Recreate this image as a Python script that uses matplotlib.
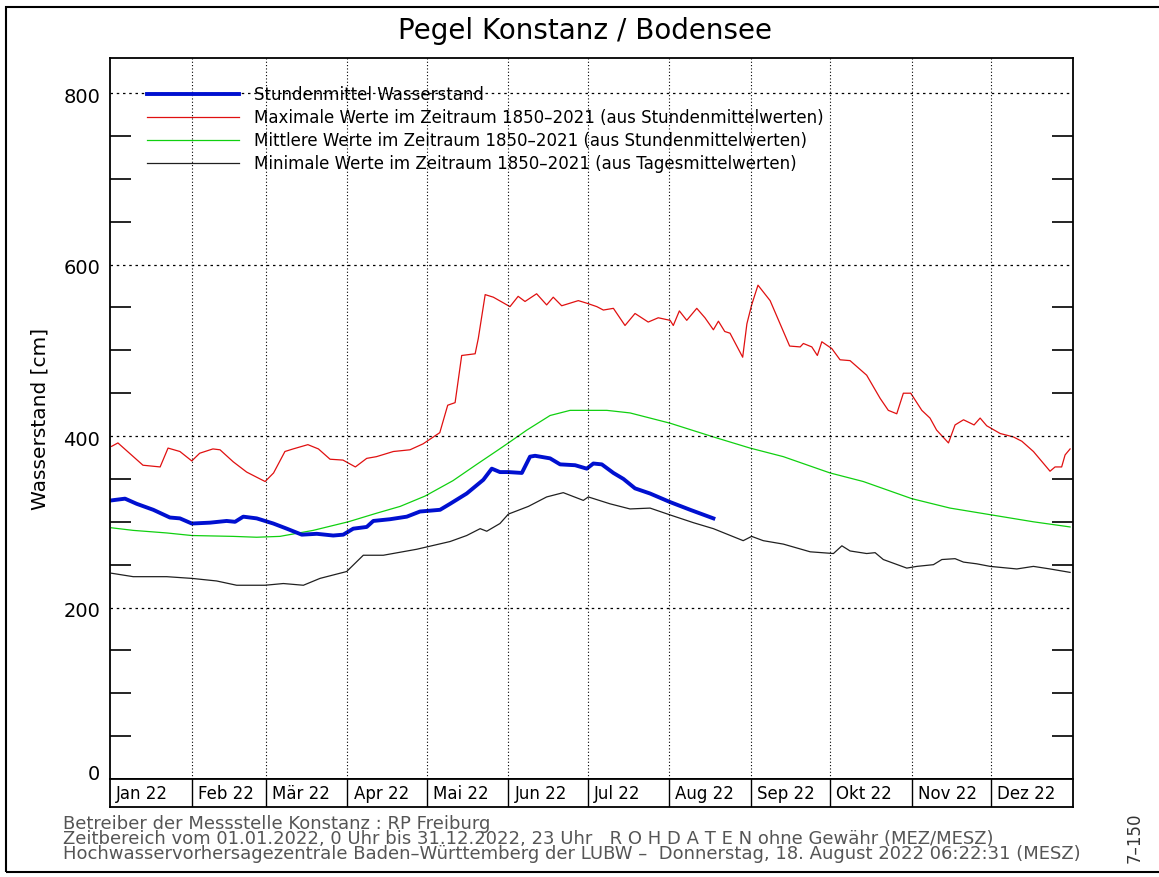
import matplotlib.pyplot as plt
from matplotlib.lines import Line2D
from matplotlib.patches import Rectangle
from matplotlib.transforms import ScaledTranslation
import numpy as np

# day of year (0 = 1. Jan) and water level in cm
max_days = [0.6, 3, 12.5, 19, 22, 26.5, 31, 34, 39, 41.7, 46.7, 51.8, 55.6, 58.8, 62, 66.3, 69.4, 75,
            79, 83.4, 88.3, 93, 97.3, 101, 107.4, 113.7, 118.7, 125, 128, 130.8, 133.3, 138.4, 139.6,
            142.2, 145.3, 151.6, 154.7, 157.3, 161.7, 165.5, 168, 171.2, 177.5, 180.7, 184.5, 187,
            190.8, 195.2, 199, 204, 207.8, 212.3, 213.5, 215.8, 218.6, 222.4, 225.5, 228.7, 230.6,
            233, 235, 239.8, 241.4, 243.2, 245.6, 250.2, 257.6, 261.6, 262.8, 266, 268.1, 269.8,
            273.6, 276.7, 280.5, 286.8, 291.9, 295, 298.2, 300.7, 303.5, 307.7, 310.8, 313.3, 317.8,
            320.3, 323.5, 327.5, 329.8, 332.3, 337.4, 342.4, 345.6, 350, 356.3, 358.2, 360.7, 362,
            363.9]
max_vals = [388, 392, 366, 364, 386, 382, 371, 380, 385, 384, 370, 358, 352, 347, 357, 382, 385, 390,
            385, 373, 372, 364, 374, 376, 382, 384, 391, 404, 436, 439, 494, 496, 514,
            565, 562, 551, 563, 557, 566, 553, 562, 552, 558, 555, 551, 547,
            549, 529, 543, 533, 538, 535, 529, 546, 535, 549, 538, 524, 534,
            522, 520, 492, 531, 553, 576, 558, 505, 504, 508, 504, 494, 510,
            502, 489, 488, 471, 444, 430, 426, 450, 450, 430, 421, 407, 392,
            413, 419, 413, 421, 412, 403, 399, 394, 382, 359, 364, 364, 378,
            385]

mean_days = [0.6, 8.8, 21.5, 31, 46.7, 55.6, 64.4, 77, 90.3, 101, 110, 119.4, 130, 139, 147.2, 151,
             158, 166.8, 174.4, 188.3, 197.1, 212.3, 228.7, 242.6, 255.2, 272.9, 285.5, 303.9,
             318.4, 334.2, 350, 363.9]
mean_vals = [293, 290, 287, 284, 283, 282, 283, 290, 300, 310, 318, 330, 348, 367, 384, 392,
             407, 424, 430, 430, 427, 415, 399, 386, 376, 357, 347, 327,
             316, 308, 300, 294]

min_days = [0.6, 8.8, 21.5, 31, 40.4, 48, 58.8, 65.7, 73.3, 79.6, 89.7, 96, 103.6, 116.3, 128.9,
            135.2, 140.3, 142.8, 147.8, 151, 158.6, 165.5, 171.8, 179.4, 181.3, 189.5, 197.1,
            204.7, 212.3, 221.1, 228.7, 240, 243.2, 247.6, 255.2, 265.4, 274.2, 277.4, 280.5,
            286.8, 290, 293.1, 302, 305.8, 312.1, 315.3, 320.3, 323.5, 328.5, 333.6, 343.7, 350,
            356.3, 363.9]
min_vals = [240, 236, 236, 234, 231, 226, 226, 228, 226, 234, 242, 261, 261, 268, 277,
            284, 292, 289, 298, 309, 318, 329, 334, 325, 329, 321, 315,
            316, 308, 299, 292, 278, 283, 278, 274, 265, 263, 272, 266,
            263, 264, 256, 246, 248, 250, 256, 257, 253, 251, 248, 245, 248,
            245, 241]

cur_days = [0.6, 5.7, 10.1, 16.4, 22.7, 26.5, 31, 37.9, 44.2, 47.4, 50.5, 55.6, 61.9, 67, 72.7,
            78.4, 84.6, 88.4, 92.2, 97.3, 99.8, 106.1, 112.5, 117.5, 125.1, 128.9, 135.2, 141.5,
            144.7, 147.8, 151, 156.1, 159.2, 161.1, 166.8, 170.6, 176.3, 180.7, 183.2, 186.4,
            190.8, 194.6, 199, 204.7, 212.3, 219.9, 228.7]
cur_vals = [325, 327, 321, 314, 305, 304, 298, 299, 301, 300, 306, 304, 298, 292, 285,
            286, 284, 285, 292, 294, 301, 303, 306, 312, 314, 321, 333, 349,
            362, 358, 358, 357, 376, 377, 374, 367, 366, 362, 368, 367,
            357, 350, 339, 333, 323, 314, 304]

month_starts = [0, 31, 59, 90, 120, 151, 181, 212, 243, 273, 304, 334, 365]
month_labels = ["Jan 22", "Feb 22", "Mär 22", "Apr 22", "Mai 22", "Jun 22",
                "Jul 22", "Aug 22", "Sep 22", "Okt 22", "Nov 22", "Dez 22"]

legend_labels = [
    "Stundenmittel Wasserstand",
    "Maximale Werte im Zeitraum 1850\u20132021 (aus Stundenmittelwerten)",
    "Mittlere Werte im Zeitraum 1850\u20132021 (aus Stundenmittelwerten)",
    "Minimale Werte im Zeitraum 1850\u20132021 (aus Tagesmittelwerten)",
]
footer = ("Betreiber der Messstelle Konstanz : RP Freiburg\n"
          "Zeitbereich vom 01.01.2022, 0 Uhr bis 31.12.2022, 23 Uhr   R O H D A T E N ohne Gewähr (MEZ/MESZ)\n"
          "Hochwasservorhersagezentrale Baden\u2013Württemberg der LUBW \u2013  Donnerstag, 18. August 2022 06:22:31 (MESZ)")

W, H = 1159, 877
fig = plt.figure(figsize=(W / 100, H / 100), dpi=100)


def box(x0, y0, x1, y1):
    # pixel box (top-left origin) -> figure fraction rect
    return [x0 / W, 1 - y1 / H, (x1 - x0) / W, (y1 - y0) / H]


ax = fig.add_axes(box(110, 58, 1073, 779))
ax.set_xlim(0, 365)
ax.set_ylim(0, 841)

ax.plot(max_days, max_vals, color="#e01010", lw=0.9)
ax.plot(mean_days, mean_vals, color="#10d010", lw=0.9)
ax.plot(min_days, min_vals, color="#202020", lw=0.9)
ax.plot(cur_days, cur_vals, color="#0010d0", lw=2.8)

for d in month_starts[1:-1]:
    ax.axvline(d, color="black", lw=0.8, ls=(0, (1, 2)))
for v in [200, 400, 600, 800]:
    ax.axhline(v, color="black", lw=0.9, ls=(0, (2, 3)))

ax.set_xticks([])
ax.set_yticks([0, 200, 400, 600, 800])
ax.set_yticklabels(["0", "200", "400", "600", "800"], fontsize=14)
ax.tick_params(axis="y", length=0, pad=7)
# nudge labels like the original: "0" sits a bit higher, the others a bit lower
for lab, dy in zip(ax.get_yticklabels(), [6, -2, -2, -2, -2]):
    lab.set_transform(lab.get_transform() + ScaledTranslation(0, dy / 100, fig.dpi_scale_trans))
ax.set_yticks([v for v in range(50, 800, 50) if v % 200], minor=True)
ax.tick_params(axis="y", which="minor", direction="in", length=15, width=1.2,
               left=True, right=True)
for s in ax.spines.values():
    s.set_linewidth(1.3)
ax.set_ylabel("Wasserstand [cm]", fontsize=14.5, labelpad=10)

handles = [Line2D([], [], color="#0010d0", lw=2.8),
           Line2D([], [], color="#e01010", lw=0.9),
           Line2D([], [], color="#10d010", lw=0.9),
           Line2D([], [], color="#202020", lw=0.9)]
ax.legend(handles, legend_labels, loc="upper left", frameon=False, fontsize=12,
          bbox_to_anchor=(147 / W, 1 - 86 / H), bbox_transform=fig.transFigure,
          borderpad=0, borderaxespad=0, handlelength=5.5, handletextpad=0.9,
          labelspacing=0.3)

# month strip under the plot
mx = fig.add_axes(box(110, 779, 1073, 807))
mx.set_xlim(0, 365)
mx.set_ylim(0, 1)
mx.set_xticks([])
mx.set_yticks([])
for s in mx.spines.values():
    s.set_linewidth(1.3)
for d, lab in zip(month_starts[:-1], month_labels):
    if d > 0:
        mx.axvline(d, color="black", lw=1.0)
    mx.text(d + 2.3, 0.45, lab, fontsize=12, ha="left", va="center")

fig.text(585 / W, 1 - 31 / H, "Pegel Konstanz / Bodensee", fontsize=20,
         ha="center", va="center")
fig.text(63 / W, 1 - 863 / H, footer, fontsize=13, color="#555555",
         ha="left", va="bottom", linespacing=0.8)
fig.text(1135 / W, 1 - 838 / H, "7\u2013150", fontsize=12, color="#333333",
         rotation=90, ha="center", va="center")

fig.patches.append(Rectangle((6 / W, 1 - 872 / H), 1.2, (872 - 7) / H,
                             transform=fig.transFigure, fill=False,
                             edgecolor="black", lw=1.5))

plt.savefig("out.png", dpi=100)
